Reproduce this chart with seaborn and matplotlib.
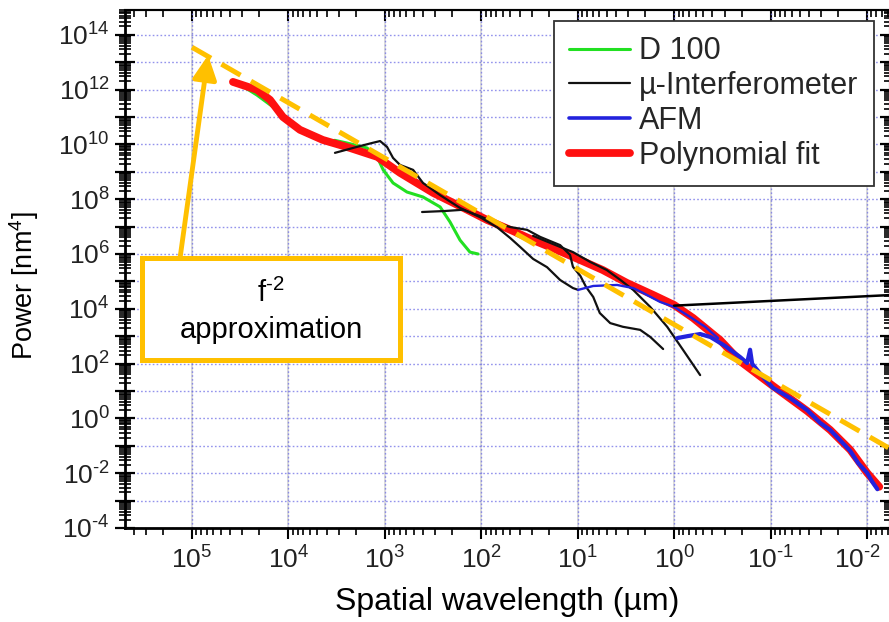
import numpy as np
import pandas as pd
import matplotlib
matplotlib.use("Agg")
import matplotlib.pyplot as plt
import matplotlib.ticker as mticker
import matplotlib.transforms as mtransforms
from matplotlib.lines import Line2D
from matplotlib.patches import Rectangle
import seaborn as sns

# ---------------------------------------------------------------- data
# Spatial wavelength in micrometres, power in nm^4

# D 100 profilometer
d100_wavelength = [3.76e4, 2.12e4, 1.31e4, 9.6e3, 6.4e3, 4.0e3, 3.3e3, 2.47e3,
                   1.53e3, 1.2e3, 1.04e3, 822, 589, 402, 267, 211, 166, 131, 108]
d100_power = [2.2e12, 6.3e11, 1.8e11, 6.0e10, 2.2e10, 1.23e10, 1.4e10, 1.12e10,
              7.4e9, 3.5e9, 1.17e9, 3.9e8, 1.82e8, 1.2e8, 5.2e7, 1.48e7, 3.2e6, 1.17e6, 1.0e6]

# micro-interferometer, three objectives
mi1_wavelength = [3.29e3, 1.94e3, 1.36e3, 1.12e3, 949, 822, 695, 509, 402, 267,
                  166, 103, 68.5, 50, 39.5, 29, 20.8, 15.2, 11.2, 9.9]
mi1_power = [4.9e9, 8.1e9, 1.12e10, 1.32e10, 8.1e9, 3.2e9, 1.77e9, 1.17e9, 3.9e8, 1.4e8,
             4.8e7, 2.2e7, 9.4e6, 3.8e6, 1.8e6, 6.6e5, 3.3e5, 1.12e5, 5.7e4, 4.9e4]

mi2_wavelength = [411, 237, 155, 103, 75.5, 50, 33.5, 24.5, 15.2, 12,
                  11.2, 9.4, 8.2, 6.9, 5.9, 4.6, 3.4, 2.25, 1.77, 1.3]
mi2_power = [3.4e7, 3.7e7, 4.1e7, 2.4e7, 1.48e7, 9.6e6, 7.6e6, 4.2e6, 2.1e6, 9.2e5,
             3.4e5, 1.6e5, 6.3e4, 2.7e4, 7.0e3, 3.0e3, 2.2e3, 1.7e3, 9.4e2, 3.4e2]

mi3_wavelength = [29, 18, 11.2, 7.4, 5.0, 3.6, 2.66, 1.77, 1.18, 0.81, 0.537]
mi3_power = [4.6e6, 2.3e6, 1.17e6, 5.1e5, 2.6e5, 1.12e5, 4.9e4, 1.17e4, 2.2e3, 3.2e2, 38]

# AFM, two scan sizes
afm1_wavelength = [9.9, 6.9, 3.9, 2.66, 2.1, 1.4, 1.0, 0.68, 0.477, 0.35]
afm1_power = [4.9e4, 6.8e4, 7.4e4, 5.7e4, 3.8e4, 1.78e4, 1.17e4, 5.0e3, 2.2e3, 8.5e2]

afm2_wavelength = [0.93, 0.73, 0.537, 0.42, 0.296, 0.207, 0.175, 0.163, 0.155, 0.122, 0.094,
                   0.0627, 0.0417, 0.0305, 0.0241, 0.019, 0.0149, 0.0123, 0.00995, 0.0088, 0.0078]
afm2_power = [8.5e2, 1.0e3, 1.2e3, 9.3e2, 4.4e2, 1.74e2, 1.05e2, 3.2e2, 98, 35, 12.9,
              5.5, 2.0, 0.68, 0.38, 0.16, 0.065, 0.023, 0.0102, 0.0048, 0.0026]

# polynomial fit through all instruments
fit_wavelength = [3.76e4, 2.12e4, 1.55e4, 1.14e4, 7.6e3, 4.4e3, 2.3e3, 1.2e3, 695, 316,
                  140, 87, 50, 29, 16.4, 9.4, 5.5, 3.07, 1.65, 1.0, 0.635, 0.333, 0.207,
                  0.094, 0.0417, 0.0241, 0.0149, 0.00995, 0.00746]
fit_power = [1.9e12, 9.8e11, 4.2e11, 1.0e11, 3.4e10, 1.45e10, 7.4e9, 3.5e9, 9.1e8, 1.7e8,
             4.1e7, 1.74e7, 7.6e6, 3.2e6, 1.4e6, 6.0e5, 2.6e5, 8.7e4, 3.2e4, 1.38e4, 4.6e3,
             7.2e2, 1.23e2, 15.1, 1.86, 0.38, 0.071, 0.0102, 0.0032]

# f^-2 reference line (end points)
f2_wavelength = [1.0e5, 6.0e-3]
f2_power = [3.5e13, 8.5e-2]

# axis decades that carry ticks
x_decades = [5, 4, 3, 2, 1, 0, -1, -2]
y_decades = list(range(-4, 15))
y_labelled = [14, 12, 10, 8, 6, 4, 2, 0, -2, -4]

legend_labels = ["D 100", "\u00b5-Interferometer", "AFM", "Polynomial fit"]
x_label = "Spatial wavelength (\u00b5m)"
y_label = "Power [nm$^4$]"

# ---------------------------------------------------------------- style
sns.set_theme(style="white")
plt.rcParams["font.family"] = ["Liberation Sans", "DejaVu Sans"]
plt.rcParams["mathtext.fontset"] = "custom"
plt.rcParams["mathtext.rm"] = "Liberation Sans"
plt.rcParams["mathtext.it"] = "Liberation Sans:italic"
plt.rcParams["mathtext.bf"] = "Liberation Sans:bold"

GREEN = "#22e022"
BLUE = "#2222dd"
RED = "#ff1010"
GOLD = "#FFC000"

fig = plt.figure(figsize=(8.89, 6.22), dpi=100)
W, H = 889, 622
ax_l, ax_r, ax_t, ax_b = 125, 890, 10, 528
ax = fig.add_axes([ax_l / W, 1 - ax_b / H, (ax_r - ax_l) / W, (ax_b - ax_t) / H])
ax.set_xscale("log")
ax.set_yscale("log")
x_lo, x_hi = 4.95e5, 5.77e-3
y_lo, y_hi = 1e-4, 8.0e14
ax.set_xlim(x_lo, x_hi)
ax.set_ylim(y_lo, y_hi)

# tick positions restricted to the visible range
x_major = [10.0 ** k for k in x_decades]
x_minor = [m * 10.0 ** k for k in range(-3, 6) for m in range(2, 10)
           if x_hi <= m * 10.0 ** k <= x_lo]
y_major = [10.0 ** k for k in y_decades]
y_minor = [m * 10.0 ** k for k in range(-4, 15) for m in range(2, 10)
           if y_lo <= m * 10.0 ** k <= y_hi]

# grid: every decade on both axes
for v in x_major:
    ax.axvline(v, color="#d4d4d4", lw=1.2, zorder=0)
ax.grid(True, which="major", axis="both", color="#6f6fe6", lw=1.0,
        linestyle=(0, (1.2, 1.6)), alpha=0.75, zorder=0.5)
ax.set_axisbelow(True)

# ---------------------------------------------------------------- curves
def draw(wl, pw, color, lw, z):
    df = pd.DataFrame({"wavelength": wl, "power": pw})
    sns.lineplot(data=df, x="wavelength", y="power", ax=ax, color=color, lw=lw,
                 sort=False, estimator=None, legend=False, zorder=z,
                 solid_capstyle="round", solid_joinstyle="round")

draw(d100_wavelength, d100_power, GREEN, 2.2, 3)
draw(fit_wavelength, fit_power, RED, 5.6, 4)
for wl, pw in [(mi1_wavelength, mi1_power), (mi2_wavelength, mi2_power),
               (mi3_wavelength, mi3_power)]:
    draw(wl, pw, "#111111", 1.6, 5)
draw(afm1_wavelength, afm1_power, BLUE, 1.7, 6)
draw(afm2_wavelength, afm2_power, BLUE, 3.0, 6)

# f^-2 approximation, dashed
ax.plot(f2_wavelength, f2_power, color=GOLD, lw=3.6, dashes=(4.4, 2.4),
        dash_capstyle="butt", zorder=7)

# pointer line leaving the plot on the right
ax.plot([1.0, 4.53e-3], [1.3e4, 3.3e4], color="black", lw=1.8, zorder=8, clip_on=False)

# ---------------------------------------------------------------- axes cosmetics
ax.set_xlabel(x_label, fontsize=23, color="black", labelpad=10)
ax.set_ylabel(y_label, fontsize=19.5, color="black")
ax.yaxis.set_label_coords(-0.110, 0.467)

def pow_label(e):
    if e < 0:
        return f"$10^{{\\text{{-}}{abs(e)}}}$"
    return f"$10^{{{e}}}$"

ax.set_xticks(x_major)
ax.set_xticks(x_minor, minor=True)
ax.set_xticklabels([pow_label(k) for k in x_decades])
ax.set_xticklabels([], minor=True)
ax.set_yticks(y_major)
ax.set_yticks(y_minor, minor=True)
ax.set_yticklabels([pow_label(k) if k in y_labelled else "" for k in y_decades])
ax.set_yticklabels([], minor=True)

ax.tick_params(axis="x", which="major", direction="out", length=8, width=1.5,
               labelsize=19, colors="black", labelcolor="#222222", pad=5,
               bottom=True, top=False)
ax.tick_params(axis="x", which="minor", direction="out", length=5, width=1.2,
               bottom=True, top=False, colors="black")
ax.tick_params(axis="y", which="major", direction="inout", length=14, width=1.6,
               labelsize=19, colors="black", labelcolor="#222222", pad=4,
               left=True, right=True)
ax.tick_params(axis="y", which="minor", direction="inout", length=8, width=1.2,
               left=True, right=True, colors="black")

# top ticks point inward
sec = ax.secondary_xaxis("top")
sec.set_xticks(x_major)
sec.set_xticks(x_minor, minor=True)
sec.set_xticklabels([])
sec.set_xticklabels([], minor=True)
sec.tick_params(axis="x", which="major", direction="in", length=8, width=1.5, colors="black")
sec.tick_params(axis="x", which="minor", direction="in", length=5, width=1.2, colors="black")
sec.spines["top"].set_linewidth(1.5)

for side in ["left", "bottom", "top", "right"]:
    ax.spines[side].set_visible(True)
    ax.spines[side].set_color("black")
ax.spines["left"].set_linewidth(2.0)
ax.spines["bottom"].set_linewidth(2.0)
ax.spines["top"].set_linewidth(1.5)
ax.spines["right"].set_linewidth(1.5)

# ---------------------------------------------------------------- legend
handles = [
    Line2D([], [], color=GREEN, lw=2.2),
    Line2D([], [], color="#111111", lw=1.6),
    Line2D([], [], color=BLUE, lw=2.6),
    Line2D([], [], color=RED, lw=5.6),
]
leg = ax.legend(handles, legend_labels, loc="upper right",
                bbox_to_anchor=((874 - ax_l) / (ax_r - ax_l), (ax_b - 21) / (ax_b - ax_t)),
                borderaxespad=0, fontsize=22, handlelength=2.0, handletextpad=0.3,
                labelspacing=0.16, borderpad=0.5, frameon=True, fancybox=False,
                framealpha=1.0, edgecolor="#333333")
leg.get_frame().set_linewidth(1.3)
leg.set_zorder(10)

# ---------------------------------------------------------------- annotation box
def fx(px):
    return (px - ax_l) / (ax_r - ax_l)

def fy(py):
    return (ax_b - py) / (ax_b - ax_t)

box = Rectangle((fx(142), fy(360)), fx(400) - fx(142), fy(258) - fy(360),
                transform=ax.transAxes, facecolor="white", edgecolor=GOLD,
                lw=3.6, zorder=11, clip_on=False)
ax.add_patch(box)
ax.text(fx(271), fy(293), "f$^{\\text{-}2}$", transform=ax.transAxes, ha="center",
        va="center", fontsize=21, color="black", zorder=12)
ax.text(fx(271), fy(330), "approximation", transform=ax.transAxes, ha="center",
        va="center", fontsize=21, color="black", zorder=12)

ax.annotate("", xy=(6.8e4, 1.8e13), xytext=(1.33e5, 7.1e5),
            arrowprops=dict(arrowstyle="-|>", color=GOLD, lw=3.5, mutation_scale=36,
                            shrinkA=0, shrinkB=0),
            zorder=11)

# keep the last wavelength label inside the canvas
fig.canvas.draw()
for tick in ax.xaxis.get_major_ticks():
    loc = tick.get_loc()
    if loc > 0 and abs(np.log10(loc) + 2) < 1e-6:
        tick.label1.set_transform(tick.label1.get_transform() +
                                  mtransforms.ScaledTranslation(-7 / 72, 0, fig.dpi_scale_trans))

fig.savefig("out.png", dpi=100, facecolor="white")
